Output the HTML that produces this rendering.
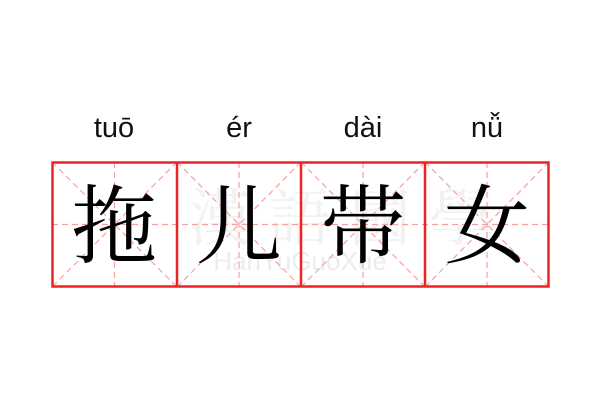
<!DOCTYPE html>
<html><head><meta charset="utf-8"><style>
body{margin:0;width:600px;height:400px;background:#fff;overflow:hidden}
</style></head><body>
<svg width="600" height="400" xmlns="http://www.w3.org/2000/svg">
<g font-family="Liberation Sans, sans-serif" font-size="29" fill="#111" text-anchor="middle">
<text x="114" y="137">tuō</text>
<text x="239" y="137">ér</text>
<text x="363" y="137">dài</text>
<text x="487" y="137">nǚ</text>
</g>
<g font-family="Liberation Sans, sans-serif" font-size="26" fill="#ececec" text-anchor="middle">
<text x="300" y="270">HanYuGuoXue</text>
</g>
<g font-family="Noto Serif CJK SC, serif" font-size="62" fill="#f2f2f2" text-anchor="middle">
<text x="220" y="240">漢</text><text x="300" y="240">語</text><text x="380" y="240">國</text><text x="460" y="240">學</text>
</g>
<g stroke="#f5a0a0" stroke-width="1.2" stroke-dasharray="6,4" fill="none">
<line x1="52" y1="224.5" x2="549" y2="224.5"/>
<line x1="114.5" y1="162" x2="114.5" y2="287"/>
<line x1="239" y1="162" x2="239" y2="287"/>
<line x1="363" y1="162" x2="363" y2="287"/>
<line x1="487" y1="162" x2="487" y2="287"/>
<line x1="52" y1="162" x2="177" y2="287"/><line x1="177" y1="162" x2="52" y2="287"/>
<line x1="177" y1="162" x2="301" y2="287"/><line x1="301" y1="162" x2="177" y2="287"/>
<line x1="301" y1="162" x2="425" y2="287"/><line x1="425" y1="162" x2="301" y2="287"/>
<line x1="425" y1="162" x2="549" y2="287"/><line x1="549" y1="162" x2="425" y2="287"/>
</g>
<g stroke="#ee2222" stroke-width="2.5" fill="none">
<rect x="52.5" y="162.5" width="496" height="124"/>
<line x1="177" y1="162" x2="177" y2="287"/>
<line x1="301" y1="162" x2="301" y2="287"/>
<line x1="425" y1="162" x2="425" y2="287"/>
</g>
<g font-family="Noto Serif CJK SC, serif" font-size="86" fill="#000" text-anchor="middle">
<text x="114" y="256">拖</text>
<text x="239" y="256">儿</text>
<text x="363" y="256">带</text>
<text x="487" y="256">女</text>
</g>
</svg>
</body></html>
